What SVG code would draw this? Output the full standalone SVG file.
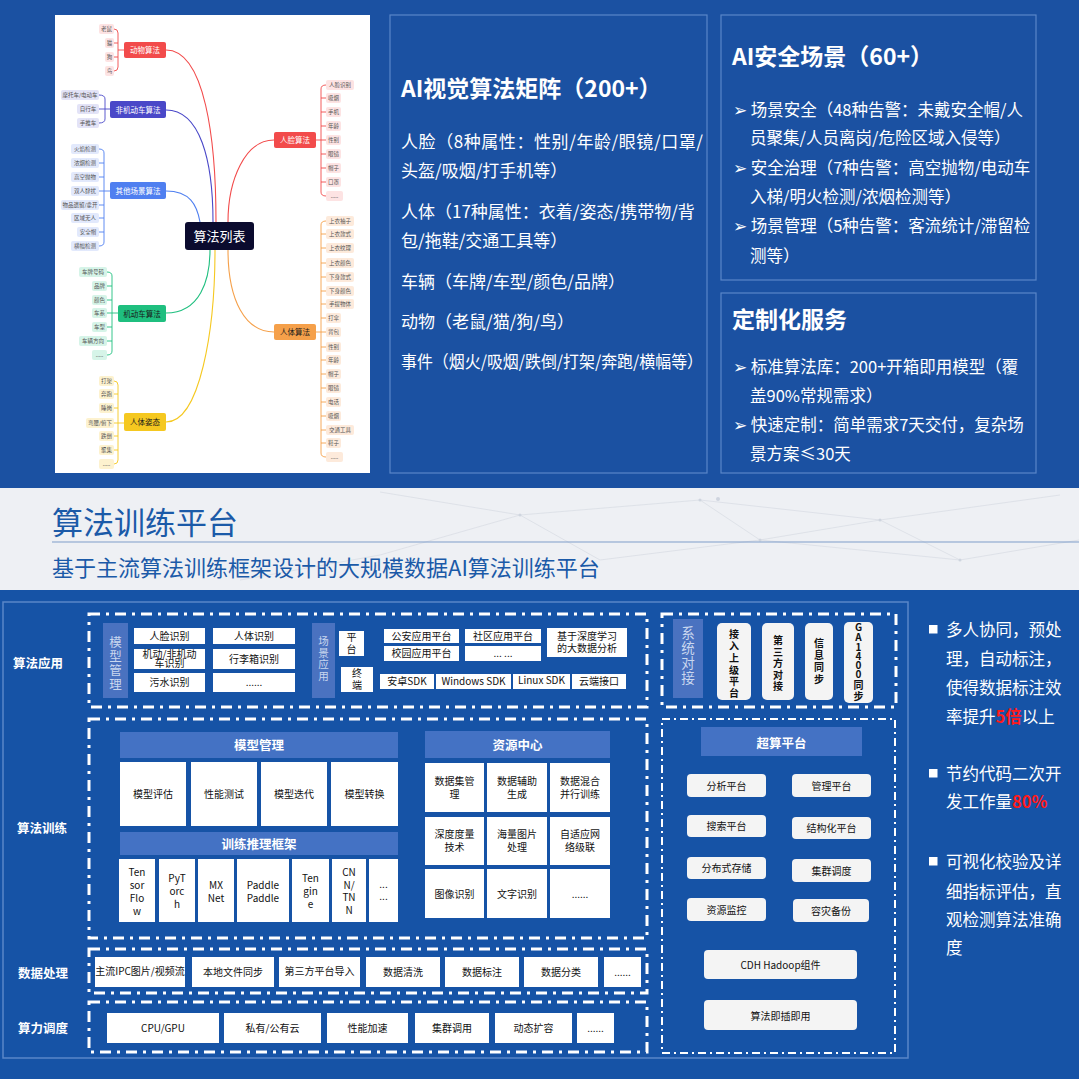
<svg xmlns="http://www.w3.org/2000/svg" width="1079" height="1079" viewBox="0 0 1079 1079">
<style>
text{font-family:"Noto Sans CJK SC","Noto Sans",sans-serif}
.w{fill:#fff}
.panel{fill:none;stroke:#5a86c8;stroke-width:1.2}
.pt{fill:#fff;font-size:23px;font-weight:bold}
.pb{fill:#fff;font-size:17px}
.pb2{fill:#fff;font-size:16.5px}
.lf{font-size:5.5px;fill:#555;text-anchor:middle}
.nd{font-size:7.5px;text-anchor:middle}
.dash{fill:none;stroke:#fff;stroke-width:3;stroke-dasharray:11 6 3 6}
.dash2{fill:none;stroke:#fff;stroke-width:2;stroke-dasharray:8 4 2 4}
.wb{fill:#fff}
.rb{fill:#f4f4f4}
.hd{fill:#4472c4}
.vb{fill:#4a72c0}
.vt{fill:#c9d7ef;text-anchor:middle}
.bt{fill:#111;text-anchor:middle;font-size:10px}
.ht{fill:#fff;text-anchor:middle;font-weight:bold;font-size:12.5px}
.lab{fill:#fff;font-weight:bold;font-size:12.5px}
.rt{fill:#fff;font-size:16.5px}
.red{fill:#ff1a1a;font-weight:bold}
.br{fill:none;stroke-width:0.9}
.cv{fill:none;stroke-width:1.1}
</style>

<!-- backgrounds -->
<rect x="0" y="0" width="1079" height="488" fill="#1b51a2"/>
<rect x="0" y="488" width="1079" height="102" fill="#eef0f4"/>
<rect x="0" y="590" width="1079" height="489" fill="#1653a6"/>
<g stroke="#d9dde5" stroke-width="0.8" fill="none">
<path d="M380,492 L520,515 L700,500 L880,520 L1060,495"/>
<path d="M520,515 L600,560 L760,540 L880,520"/>
<path d="M700,500 L760,540 L960,560"/>
<path d="M240,580 L380,555 L520,515"/>
<path d="M880,520 L960,560 L1079,540"/>
</g>
<g fill="#cfd5df">
<circle cx="520" cy="515" r="1.5"/><circle cx="700" cy="500" r="1.5"/><circle cx="880" cy="520" r="1.5"/><circle cx="760" cy="540" r="1.5"/><circle cx="960" cy="560" r="1.5"/><circle cx="718" cy="499" r="2"/>
</g>

<!-- mind map panel -->
<g id="mindmap">
<rect x="55" y="15" width="315" height="458" fill="#fff"/>
<g id="curves">
<path class="cv" stroke="#f24b4b" d="M166,50 C205,50 216,140 216,222"/>
<path class="cv" stroke="#4a48c8" d="M166,110 C200,110 213,160 213,222"/>
<path class="cv" stroke="#4f7ff0" d="M166,191 C190,191 197,205 200,222"/>
<path class="cv" stroke="#1fbf7f" d="M166,313 C200,313 210,280 210,250"/>
<path class="cv" stroke="#f5c820" d="M166,422 C200,422 215,330 215,250"/>
<path class="cv" stroke="#f24b4b" d="M274,140 C245,140 228,180 228,222"/>
<path class="cv" stroke="#f5a04a" d="M274,332 C245,332 228,300 228,250"/>
</g>
<g id="center">
<rect x="185" y="222" width="69" height="28" rx="3" fill="#0b0b2e"/>
<text x="219.5" y="241" fill="#fff" font-size="13" text-anchor="middle">算法列表</text>
</g>

<g id="animal">
<path class="br" stroke="#f24b4b" d="M114,29 Q118,29 118,33 V67 Q118,71 114,71 M114,43 H118 M114,57 H118 M118,50 H124"/>
<rect x="124" y="42" width="42" height="16" rx="2" fill="#f24b4b"/>
<text class="nd" x="145" y="53" fill="#fff">动物算法</text>
<g fill="#fde3e3">
<rect x="99" y="24" width="15" height="10" rx="2"/><rect x="105" y="38" width="9" height="10" rx="2"/><rect x="105" y="52" width="9" height="10" rx="2"/><rect x="105" y="66" width="9" height="10" rx="2"/>
</g>
<text class="lf" x="106.5" y="31">老鼠</text><text class="lf" x="109.5" y="45">猫</text><text class="lf" x="109.5" y="59">狗</text><text class="lf" x="109.5" y="73">鸟</text>
</g>

<g id="nonmotor">
<path class="br" stroke="#4a48c8" d="M99,95 Q105,95 105,99 V119 Q105,123 99,123 M99,109 H110"/>
<rect x="110" y="101" width="56" height="17" rx="2" fill="#4a48c8"/>
<text class="nd" x="138" y="112.5" fill="#fff">非机动车算法</text>
<g fill="#e3e3f7">
<rect x="61" y="90" width="38" height="10" rx="2"/><rect x="77" y="104" width="22" height="10" rx="2"/><rect x="77" y="118" width="22" height="10" rx="2"/>
</g>
<text class="lf" x="80" y="97">摩托车/电动车</text><text class="lf" x="88" y="111">自行车</text><text class="lf" x="88" y="125">手推车</text>
</g>

<g id="other">
<path class="br" stroke="#4f7ff0" d="M99,149 Q104,149 104,153 V242 Q104,246 99,246 M99,163 H104 M99,177 H104 M99,191 H110 M99,205 H104 M99,218 H104 M99,232 H104"/>
<rect x="110" y="182" width="56" height="17" rx="2" fill="#4f7ff0"/>
<text class="nd" x="138" y="193.5" fill="#fff">其他场景算法</text>
<g fill="#e2e9fc">
<rect x="71" y="144" width="28" height="10" rx="2"/><rect x="71" y="158" width="28" height="10" rx="2"/><rect x="71" y="172" width="28" height="10" rx="2"/><rect x="71" y="186" width="28" height="10" rx="2"/><rect x="61" y="200" width="38" height="10" rx="2"/><rect x="71" y="213" width="28" height="10" rx="2"/><rect x="77" y="227" width="22" height="10" rx="2"/><rect x="71" y="241" width="28" height="10" rx="2"/>
</g>
<text class="lf" x="85" y="151">火焰检测</text><text class="lf" x="85" y="165">浓烟检测</text><text class="lf" x="85" y="179">高空抛物</text><text class="lf" x="85" y="193">双人肆扰</text><text class="lf" x="80" y="207">物品遗留/拿开</text><text class="lf" x="85" y="220">区域无人</text><text class="lf" x="88" y="234">安全帽</text><text class="lf" x="85" y="248">横幅检测</text>
</g>

<g id="motor">
<path class="br" stroke="#1fbf7f" d="M107,272 Q112,272 112,276 V351 Q112,355 107,355 M107,286 H112 M107,300 H112 M107,313 H118 M107,327 H112 M107,341 H112"/>
<rect x="118" y="305" width="48" height="17" rx="2" fill="#1fbf7f"/>
<text class="nd" x="142" y="316.5" fill="#1a1a1a">机动车算法</text>
<g fill="#d6f4e8">
<rect x="79" y="267" width="28" height="10" rx="2"/><rect x="92" y="281" width="15" height="10" rx="2"/><rect x="92" y="295" width="15" height="10" rx="2"/><rect x="92" y="308" width="15" height="10" rx="2"/><rect x="92" y="322" width="15" height="10" rx="2"/><rect x="79" y="336" width="28" height="10" rx="2"/><rect x="92" y="350" width="15" height="10" rx="2"/>
</g>
<text class="lf" x="93" y="274">车牌号码</text><text class="lf" x="99.5" y="288">品牌</text><text class="lf" x="99.5" y="302">颜色</text><text class="lf" x="99.5" y="315">车系</text><text class="lf" x="99.5" y="329">车型</text><text class="lf" x="93" y="343">车辆方向</text><text class="lf" x="99.5" y="357">.....</text>
</g>

<g id="pose">
<path class="br" stroke="#f5c820" d="M114,381 Q118,381 118,385 V460 Q118,464 114,464 M114,394 H118 M114,408 H118 M114,423 H124 M114,436 H118 M114,450 H118"/>
<rect x="124" y="413" width="42" height="18" rx="2" fill="#f5c820"/>
<text class="nd" x="145" y="425" fill="#1a1a1a">人体姿态</text>
<g fill="#fdf2cf">
<rect x="99" y="376" width="15" height="10" rx="2"/><rect x="99" y="389" width="15" height="10" rx="2"/><rect x="99" y="403" width="15" height="10" rx="2"/><rect x="86" y="418" width="28" height="10" rx="2"/><rect x="99" y="431" width="15" height="10" rx="2"/><rect x="99" y="445" width="15" height="10" rx="2"/><rect x="99" y="459" width="15" height="10" rx="2"/>
</g>
<text class="lf" x="106.5" y="383">打架</text><text class="lf" x="106.5" y="396">奔跑</text><text class="lf" x="106.5" y="410">睡岗</text><text class="lf" x="100" y="425">弯腰/俯下</text><text class="lf" x="106.5" y="438">跌倒</text><text class="lf" x="106.5" y="452">聚集</text><text class="lf" x="106.5" y="466">.....</text>
</g>

<g id="face">
<path class="br" stroke="#f24b4b" d="M326,85 Q321,85 321,89 V192 Q321,196 326,196 M326,98 H321 M326,112 H321 M326,126 H321 M316,140 H326 M326,154 H321 M326,168 H321 M326,182 H321"/>
<rect x="274" y="132" width="42" height="16" rx="2" fill="#f24b4b"/>
<text class="nd" x="295" y="143" fill="#fff">人脸算法</text>
<g fill="#fde3e3">
<rect x="326" y="80" width="28" height="10" rx="2"/><rect x="326" y="93" width="15" height="10" rx="2"/><rect x="326" y="107" width="15" height="10" rx="2"/><rect x="326" y="121" width="15" height="10" rx="2"/><rect x="326" y="135" width="15" height="10" rx="2"/><rect x="326" y="149" width="15" height="10" rx="2"/><rect x="326" y="163" width="15" height="10" rx="2"/><rect x="326" y="177" width="15" height="10" rx="2"/><rect x="326" y="191" width="17" height="10" rx="2"/>
</g>
<text class="lf" x="340" y="87">人脸识别</text><text class="lf" x="333.5" y="100">吸烟</text><text class="lf" x="333.5" y="114">手机</text><text class="lf" x="333.5" y="128">年龄</text><text class="lf" x="333.5" y="142">性别</text><text class="lf" x="333.5" y="156">眼镜</text><text class="lf" x="333.5" y="170">帽子</text><text class="lf" x="333.5" y="184">口罩</text><text class="lf" x="334.5" y="198">.....</text>
</g>

<g id="body">
<path class="br" stroke="#f5a04a" d="M326,221 Q321,221 321,225 V453 Q321,457 326,457 M326,234 H321 M326,248 H321 M326,263 H321 M326,277 H321 M326,291 H321 M326,304 H321 M326,318 H321 M316,332 H326 M326,347 H321 M326,360 H321 M326,374 H321 M326,388 H321 M326,402 H321 M326,416 H321 M326,430 H321 M326,443 H321"/>
<rect x="274" y="324" width="42" height="16" rx="2" fill="#f5a04a"/>
<text class="nd" x="295" y="335" fill="#1a1a1a">人体算法</text>
<g fill="#fdeadb">
<rect x="326" y="216" width="28" height="10" rx="2"/><rect x="326" y="229" width="28" height="10" rx="2"/><rect x="326" y="243" width="28" height="10" rx="2"/><rect x="326" y="258" width="28" height="10" rx="2"/><rect x="326" y="272" width="28" height="10" rx="2"/><rect x="326" y="286" width="28" height="10" rx="2"/><rect x="326" y="299" width="28" height="10" rx="2"/><rect x="326" y="313" width="15" height="10" rx="2"/><rect x="326" y="327" width="15" height="10" rx="2"/><rect x="326" y="342" width="15" height="10" rx="2"/><rect x="326" y="355" width="15" height="10" rx="2"/><rect x="326" y="369" width="15" height="10" rx="2"/><rect x="326" y="383" width="15" height="10" rx="2"/><rect x="326" y="397" width="15" height="10" rx="2"/><rect x="326" y="411" width="15" height="10" rx="2"/><rect x="326" y="425" width="28" height="10" rx="2"/><rect x="326" y="438" width="15" height="10" rx="2"/><rect x="326" y="452" width="17" height="10" rx="2"/>
</g>
<text class="lf" x="340" y="223">上衣袖子</text><text class="lf" x="340" y="236">上衣款式</text><text class="lf" x="340" y="250">上衣纹理</text><text class="lf" x="340" y="265">上衣颜色</text><text class="lf" x="340" y="279">下身款式</text><text class="lf" x="340" y="293">下身颜色</text><text class="lf" x="340" y="306">手提物体</text><text class="lf" x="333.5" y="320">打伞</text><text class="lf" x="333.5" y="334">背包</text><text class="lf" x="333.5" y="349">性别</text><text class="lf" x="333.5" y="362">年龄</text><text class="lf" x="333.5" y="376">帽子</text><text class="lf" x="333.5" y="390">眼镜</text><text class="lf" x="333.5" y="404">电话</text><text class="lf" x="333.5" y="418">吸烟</text><text class="lf" x="340" y="432">交通工具</text><text class="lf" x="333.5" y="445">鞋子</text><text class="lf" x="334.5" y="459">.....</text>
</g>
</g>

<!-- top text panels -->
<g id="panel-vision">
<rect class="panel" x="390" y="15" width="317" height="458"/>
<text class="pt" x="401" y="97">AI视觉算法矩阵（200+）</text>
<text class="pb" x="401" y="148" textLength="302" lengthAdjust="spacing">人脸（8种属性：性别/年龄/眼镜/口罩/</text>
<text class="pb" x="401" y="177">头盔/吸烟/打手机等）</text>
<text class="pb" x="401" y="218">人体（17种属性：衣着/姿态/携带物/背</text>
<text class="pb" x="401" y="247">包/拖鞋/交通工具等）</text>
<text class="pb" x="401" y="288">车辆（车牌/车型/颜色/品牌）</text>
<text class="pb" x="401" y="328">动物（老鼠/猫/狗/鸟）</text>
<text class="pb" x="401" y="368" textLength="302" lengthAdjust="spacingAndGlyphs">事件（烟火/吸烟/跌倒/打架/奔跑/横幅等）</text>
</g>
<g id="panel-safety">
<rect class="panel" x="721" y="15" width="315" height="265"/>
<text class="pt" x="732" y="65">AI安全场景（60+）</text>
<text class="pb2" x="733" y="116">➢ 场景安全（48种告警：未戴安全帽/人</text>
<text class="pb2" x="750" y="144">员聚集/人员离岗/危险区域入侵等）</text>
<text class="pb2" x="733" y="174">➢ 安全治理（7种告警：高空抛物/电动车</text>
<text class="pb2" x="750" y="203">入梯/明火检测/浓烟检测等）</text>
<text class="pb2" x="733" y="232">➢ 场景管理（5种告警：客流统计/滞留检</text>
<text class="pb2" x="750" y="262">测等）</text>
</g>
<g id="panel-custom">
<rect class="panel" x="721" y="293" width="315" height="180"/>
<text class="pt" x="732" y="328">定制化服务</text>
<text class="pb2" x="733" y="373">➢ 标准算法库：200+开箱即用模型（覆</text>
<text class="pb2" x="750" y="402">盖90%常规需求）</text>
<text class="pb2" x="733" y="431">➢ 快速定制：简单需求7天交付，复杂场</text>
<text class="pb2" x="750" y="460">景方案≤30天</text>
</g>

<!-- middle title band -->
<g id="band-title">
<text x="52" y="534" fill="#1b5aa8" font-size="31">算法训练平台</text>
<line x1="52" y1="542" x2="1079" y2="542" stroke="#7f9dc9" stroke-width="1"/>
<text x="52" y="576" fill="#1b5aa8" font-size="22">基于主流算法训练框架设计的大规模数据AI算法训练平台</text>
</g>

<!-- bottom platform -->
<rect x="3" y="602" width="905" height="456" fill="none" stroke="#5a86c8" stroke-width="1.5"/>
<g id="row-labels">
<text class="lab" x="13" y="668">算法应用</text>
<text class="lab" x="17" y="833">算法训练</text>
<text class="lab" x="18" y="978">数据处理</text>
<text class="lab" x="18" y="1033">算力调度</text>
</g>

<g id="connectors-frames">
<rect class="dash" x="89" y="614" width="558" height="93"/>
<rect class="dash" x="662" y="614" width="234" height="93"/>
<rect class="dash" x="89" y="719" width="558" height="219"/>
<rect class="dash2" x="662" y="719" width="233" height="334"/>
<rect class="dash" x="89" y="949" width="558" height="44"/>
<rect class="dash" x="89" y="1002" width="558" height="50"/>
</g>

<g id="app-model">
<rect class="vb" x="103" y="623" width="25" height="75"/>
<text class="vt" font-size="12.5"><tspan x="115.5" y="647">模</tspan><tspan x="115.5" y="661">型</tspan><tspan x="115.5" y="675">管</tspan><tspan x="115.5" y="689">理</tspan></text>
<rect class="wb" x="134" y="628" width="71" height="16"/><text class="bt" x="169.5" y="640">人脸识别</text>
<rect class="wb" x="213" y="628" width="82" height="16"/><text class="bt" x="254" y="640">人体识别</text>
<rect class="wb" x="134" y="649" width="71" height="20"/><text class="bt" font-size="8"><tspan x="169.5" y="657.5">机动/非机动</tspan><tspan x="169.5" y="667">车识别</tspan></text>
<rect class="wb" x="213" y="649" width="82" height="20"/><text class="bt" x="254" y="663">行李箱识别</text>
<rect class="wb" x="134" y="673" width="71" height="19"/><text class="bt" x="169.5" y="686">污水识别</text>
<rect class="wb" x="213" y="673" width="82" height="19"/><text class="bt" x="254" y="686">......</text>
</g>
<g id="app-scene">
<rect class="vb" x="312" y="623" width="23" height="75"/>
<text class="vt" font-size="10.5"><tspan x="323.5" y="645">场</tspan><tspan x="323.5" y="656.5">景</tspan><tspan x="323.5" y="668">应</tspan><tspan x="323.5" y="679.5">用</tspan></text>
<rect class="wb" x="339" y="631" width="25" height="25"/><text class="bt" font-size="11"><tspan x="351.5" y="641">平</tspan><tspan x="351.5" y="653">台</tspan></text>
<rect class="wb" x="341" y="667" width="32" height="25"/><text class="bt" font-size="11"><tspan x="357" y="677">终</tspan><tspan x="357" y="689">端</tspan></text>
<rect class="wb" x="384" y="629" width="75" height="14"/><text class="bt" font-size="9.5" x="421.5" y="639.5">公安应用平台</text>
<rect class="wb" x="465" y="629" width="76" height="14"/><text class="bt" font-size="9.5" x="503" y="639.5">社区应用平台</text>
<rect class="wb" x="384" y="646" width="75" height="15"/><text class="bt" font-size="9.5" x="421.5" y="657">校园应用平台</text>
<rect class="wb" x="465" y="646" width="76" height="15"/><text class="bt" font-size="9.5" x="503" y="657">... ...</text>
<rect class="wb" x="547" y="628" width="80" height="29"/><text class="bt" font-size="9.5"><tspan x="587" y="640">基于深度学习</tspan><tspan x="587" y="652">的大数据分析</tspan></text>
<rect class="wb" x="380" y="674" width="54" height="15"/><text class="bt" font-size="8.5" x="407" y="684.5">安卓SDK</text>
<rect class="wb" x="436" y="674" width="75" height="15"/><text class="bt" font-size="8.5" x="473.5" y="684.5">Windows SDK</text>
<rect class="wb" x="513" y="674" width="57" height="15"/><text class="bt" font-size="7.5" x="541.5" y="684">Linux SDK</text>
<rect class="wb" x="572" y="674" width="54" height="15"/><text class="bt" font-size="8.5" x="599" y="684.5">云端接口</text>
</g>
<g id="app-system">
<rect class="vb" x="673" y="619" width="30" height="79"/>
<text class="vt" font-size="13.5"><tspan x="688" y="638">系</tspan><tspan x="688" y="653">统</tspan><tspan x="688" y="668">对</tspan><tspan x="688" y="683">接</tspan></text>
<rect class="rb" x="717" y="623" width="34" height="77" rx="5"/>
<text class="bt" font-size="10" font-weight="bold"><tspan x="734" y="638">接</tspan><tspan x="734" y="650">入</tspan><tspan x="734" y="662">上</tspan><tspan x="734" y="673.5">级</tspan><tspan x="734" y="685">平</tspan><tspan x="734" y="696.5">台</tspan></text>
<rect class="rb" x="762" y="623" width="32" height="77" rx="5"/>
<text class="bt" font-size="10" font-weight="bold"><tspan x="778" y="644">第</tspan><tspan x="778" y="655.5">三</tspan><tspan x="778" y="667">方</tspan><tspan x="778" y="678.5">对</tspan><tspan x="778" y="690">接</tspan></text>
<rect class="rb" x="805" y="623" width="28" height="77" rx="5"/>
<text class="bt" font-size="10" font-weight="bold"><tspan x="819" y="647">信</tspan><tspan x="819" y="659">息</tspan><tspan x="819" y="671">同</tspan><tspan x="819" y="683">步</tspan></text>
<rect class="rb" x="844" y="622" width="29" height="81" rx="5"/>
<text class="bt" font-size="8.5" font-weight="bold"><tspan x="858.5" y="631">G</tspan><tspan x="858.5" y="641">A</tspan><tspan x="858.5" y="651">1</tspan><tspan x="858.5" y="660">4</tspan><tspan x="858.5" y="669">0</tspan><tspan x="858.5" y="678">0</tspan><tspan x="858.5" y="689">同</tspan><tspan x="858.5" y="700">步</tspan></text>
</g>

<g id="train-model">
<rect class="hd" x="120" y="732" width="278" height="26"/><text class="ht" x="259" y="750">模型管理</text>
<rect class="wb" x="120" y="762" width="66" height="64"/><text class="bt" font-size="9.5" x="153" y="798">模型评估</text>
<rect class="wb" x="191" y="762" width="66" height="64"/><text class="bt" font-size="9.5" x="224" y="798">性能测试</text>
<rect class="wb" x="261" y="762" width="66" height="64"/><text class="bt" font-size="9.5" x="294" y="798">模型迭代</text>
<rect class="wb" x="331" y="762" width="67" height="64"/><text class="bt" font-size="9.5" x="364.5" y="798">模型转换</text>
</g>
<g id="train-framework">
<rect class="hd" x="120" y="832" width="278" height="23"/><text class="ht" x="259" y="848.5">训练推理框架</text>
<rect class="wb" x="119" y="859" width="36" height="63"/><text class="bt" font-size="10.5"><tspan x="137" y="876">Ten</tspan><tspan x="137" y="889">sor</tspan><tspan x="137" y="902">Flo</tspan><tspan x="137" y="915">w</tspan></text>
<rect class="wb" x="159" y="859" width="36" height="63"/><text class="bt" font-size="10.5"><tspan x="177" y="882">PyT</tspan><tspan x="177" y="895">orc</tspan><tspan x="177" y="908">h</tspan></text>
<rect class="wb" x="198" y="859" width="36" height="63"/><text class="bt" font-size="10.5"><tspan x="216" y="889">MX</tspan><tspan x="216" y="902">Net</tspan></text>
<rect class="wb" x="237" y="859" width="52" height="63"/><text class="bt" font-size="10.5"><tspan x="263" y="889">Paddle</tspan><tspan x="263" y="902">Paddle</tspan></text>
<rect class="wb" x="292" y="859" width="37" height="63"/><text class="bt" font-size="10.5"><tspan x="310.5" y="882">Ten</tspan><tspan x="310.5" y="895">gin</tspan><tspan x="310.5" y="908">e</tspan></text>
<rect class="wb" x="332" y="859" width="34" height="63"/><text class="bt" font-size="10.5"><tspan x="349" y="876">CN</tspan><tspan x="349" y="889">N/</tspan><tspan x="349" y="901">TN</tspan><tspan x="349" y="914">N</tspan></text>
<rect class="wb" x="369" y="859" width="29" height="63"/><text class="bt" font-size="10.5"><tspan x="383.5" y="888">...</tspan><tspan x="383.5" y="900">...</tspan></text>
</g>
<g id="train-resource">
<rect class="hd" x="425" y="731" width="185" height="27"/><text class="ht" x="517.5" y="749.5">资源中心</text>
<rect class="wb" x="425" y="763" width="59" height="49"/><text class="bt" font-size="9.5"><tspan x="454.5" y="785">数据集管</tspan><tspan x="454.5" y="798">理</tspan></text>
<rect class="wb" x="487" y="763" width="60" height="49"/><text class="bt" font-size="9.5"><tspan x="517" y="785">数据辅助</tspan><tspan x="517" y="798">生成</tspan></text>
<rect class="wb" x="550" y="763" width="60" height="49"/><text class="bt" font-size="9.5"><tspan x="580" y="785">数据混合</tspan><tspan x="580" y="798">并行训练</tspan></text>
<rect class="wb" x="425" y="817" width="59" height="48"/><text class="bt" font-size="9.5"><tspan x="454.5" y="838">深度度量</tspan><tspan x="454.5" y="851">技术</tspan></text>
<rect class="wb" x="487" y="817" width="60" height="48"/><text class="bt" font-size="9.5"><tspan x="517" y="838">海量图片</tspan><tspan x="517" y="851">处理</tspan></text>
<rect class="wb" x="550" y="817" width="60" height="48"/><text class="bt" font-size="9.5"><tspan x="580" y="838">自适应网</tspan><tspan x="580" y="851">络级联</tspan></text>
<rect class="wb" x="425" y="869" width="59" height="49"/><text class="bt" font-size="9.5" x="454.5" y="898">图像识别</text>
<rect class="wb" x="487" y="869" width="60" height="49"/><text class="bt" font-size="9.5" x="517" y="898">文字识别</text>
<rect class="wb" x="550" y="869" width="60" height="49"/><text class="bt" font-size="9.5" x="580" y="898">......</text>
</g>

<g id="supercompute">
<rect class="hd" x="701" y="727" width="161" height="29"/><text class="ht" font-size="16" x="781.5" y="747.5">超算平台</text>
<rect class="rb" x="687" y="774" width="79" height="23" rx="4"/><text class="bt" font-size="11.5" x="726.5" y="789.5">分析平台</text>
<rect class="rb" x="792" y="774" width="79" height="23" rx="4"/><text class="bt" font-size="11.5" x="831.5" y="789.5">管理平台</text>
<rect class="rb" x="687" y="815" width="79" height="22" rx="4"/><text class="bt" font-size="11.5" x="726.5" y="830">搜索平台</text>
<rect class="rb" x="792" y="817" width="79" height="22" rx="4"/><text class="bt" font-size="11.5" x="831.5" y="832">结构化平台</text>
<rect class="rb" x="687" y="857" width="79" height="22" rx="4"/><text class="bt" font-size="11.5" x="726.5" y="872">分布式存储</text>
<rect class="rb" x="792" y="859" width="79" height="23" rx="4"/><text class="bt" font-size="11.5" x="831.5" y="875">集群调度</text>
<rect class="rb" x="687" y="898" width="79" height="23" rx="4"/><text class="bt" font-size="11.5" x="726.5" y="913.5">资源监控</text>
<rect class="rb" x="793" y="899" width="76" height="23" rx="4"/><text class="bt" font-size="11.5" x="831" y="914.5">容灾备份</text>
<rect class="rb" x="704" y="950" width="153" height="29" rx="4"/><text class="bt" font-size="13" x="780.5" y="969">CDH Hadoop组件</text>
<rect class="rb" x="704" y="1000" width="153" height="30" rx="4"/><text class="bt" font-size="14.5" x="780.5" y="1020">算法即插即用</text>
</g>

<g id="data-processing">
<rect class="wb" x="95" y="957" width="90" height="30"/><text class="bt" font-size="8" x="140" y="975">主流IPC图片/视频流</text>
<rect class="wb" x="192" y="957" width="82" height="30"/><text class="bt" font-size="9.5" x="233" y="975.5">本地文件同步</text>
<rect class="wb" x="279" y="957" width="81" height="30"/><text class="bt" font-size="8" x="319.5" y="975">第三方平台导入</text>
<rect class="wb" x="366" y="957" width="74" height="30"/><text class="bt" font-size="9.5" x="403" y="975.5">数据清洗</text>
<rect class="wb" x="445" y="957" width="74" height="30"/><text class="bt" font-size="9.5" x="482" y="975.5">数据标注</text>
<rect class="wb" x="524" y="957" width="74" height="30"/><text class="bt" font-size="9.5" x="561" y="975.5">数据分类</text>
<rect class="wb" x="604" y="957" width="37" height="30"/><text class="bt" font-size="9.5" x="622.5" y="975.5">......</text>
</g>

<g id="compute">
<rect class="wb" x="107" y="1013" width="112" height="30"/><text class="bt" font-size="10.5" x="163" y="1032">CPU/GPU</text>
<rect class="wb" x="224" y="1013" width="97" height="30"/><text class="bt" font-size="10.5" x="272.5" y="1032">私有/公有云</text>
<rect class="wb" x="327" y="1013" width="81" height="30"/><text class="bt" font-size="10.5" x="367.5" y="1032">性能加速</text>
<rect class="wb" x="415" y="1013" width="74" height="30"/><text class="bt" font-size="10.5" x="452" y="1032">集群调用</text>
<rect class="wb" x="495" y="1013" width="77" height="30"/><text class="bt" font-size="10.5" x="533.5" y="1032">动态扩容</text>
<rect class="wb" x="577" y="1013" width="37" height="30"/><text class="bt" font-size="10.5" x="595.5" y="1032">......</text>
</g>

<g id="benefits">
<rect x="929" y="625" width="8.5" height="8.5" fill="#fff"/>
<text class="rt" x="946" y="636">多人协同，预处</text>
<text class="rt" x="946" y="665">理，自动标注，</text>
<text class="rt" x="946" y="694">使得数据标注效</text>
<text class="rt" x="946" y="723">率提升<tspan class="red">5倍</tspan>以上</text>
<rect x="929" y="769" width="8.5" height="8.5" fill="#fff"/>
<text class="rt" x="946" y="780">节约代码二次开</text>
<text class="rt" x="946" y="808">发工作量<tspan class="red">80%</tspan></text>
<rect x="929" y="857" width="8.5" height="8.5" fill="#fff"/>
<text class="rt" x="946" y="868">可视化校验及详</text>
<text class="rt" x="946" y="898">细指标评估，直</text>
<text class="rt" x="946" y="926">观检测算法准确</text>
<text class="rt" x="946" y="954">度</text>
</g>
</svg>
